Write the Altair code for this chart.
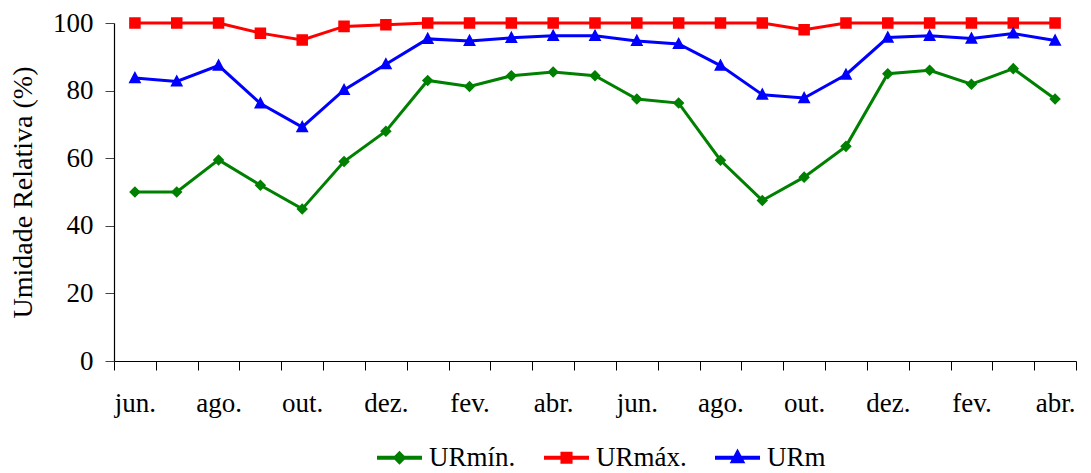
import altair as alt
import pandas as pd

months = ["jun.", "jul.", "ago.", "set.", "out.", "nov.", "dez.", "jan.", "fev.", "mar.", "abr.", "mai.",
          "jun.", "jul.", "ago.", "set.", "out.", "nov.", "dez.", "jan.", "fev.", "mar.", "abr."]
ur_min = [50, 50, 59.5, 52, 45, 59, 68, 83, 81.2, 84.4, 85.5, 84.4,
          77.5, 76.3, 59.4, 47.5, 54.4, 63.5, 85, 86, 81.9, 86.5, 77.5]
ur_max = [100, 100, 100, 97, 95, 99, 99.5, 100, 100, 100, 100, 100,
          100, 100, 100, 100, 98, 100, 100, 100, 100, 100, 100]
ur_m = [83.7, 82.7, 87.4, 76.2, 69.2, 80.2, 87.8, 95.3, 94.7, 95.6, 96.2, 96.2,
        94.7, 93.8, 87.4, 78.8, 77.8, 84.7, 95.7, 96.2, 95.4, 96.9, 94.8]
series_names = ["URmín.", "URmáx.", "URm"]
series_colors = ["#008000", "#FF0000", "#0000FF"]
y_ticks = [0, 20, 40, 60, 80, 100]

rows = []
for name, vals in zip(series_names, [ur_min, ur_max, ur_m]):
    for i, v in enumerate(vals):
        rows.append({"i": i, "series": name, "value": v})
df = pd.DataFrame(rows)

tick_labels = [m if k % 2 == 0 else "" for k, m in enumerate(months)]
label_expr = "[" + ",".join("'" + t + "'" for t in tick_labels) + "][datum.value]"

FONT = "Liberation Serif"

# shapes: a legend line plus marker (the line part has no area so it is invisible when only filled)
shape_paths = [
    "M-1,0L1,0M0,-0.18L0.18,0L0,0.18L-0.18,0Z",
    "M-1,0L1,0M-0.18,-0.18L0.18,-0.18L0.18,0.18L-0.18,0.18Z",
    "M-1,0L1,0M0,-0.22L0.2,0.16L-0.2,0.16Z",
]

x_enc = alt.X(
    "i:O",
    scale=alt.Scale(type="band", paddingInner=0, paddingOuter=0),
    axis=alt.Axis(
        title=None, labelExpr=label_expr, tickBand="extent", labelAngle=0,
        tickSize=9, labelPadding=20, labelFontSize=27, labelFont=FONT,
        labelColor="black", domainColor="black", tickColor="black",
        domainWidth=1.2, tickWidth=1,
    ),
)
y_enc = alt.Y(
    "value:Q",
    scale=alt.Scale(domain=[0, 100], nice=False),
    axis=alt.Axis(
        values=y_ticks, title="Umidade Relativa (%)", grid=False,
        tickSize=9, labelPadding=12, labelFontSize=27, labelFont=FONT,
        labelColor="black", domainColor="black", tickColor="#444",
        titleFont=FONT, titleFontSize=28, titleFontWeight="normal",
        titleColor="black", titlePadding=15, domainWidth=1.2,
    ),
)

legend = alt.Legend(
    title=None, orient="none", direction="horizontal",
    legendX=261, legendY=410,
    labelFont=FONT, labelFontSize=27, labelColor="black",
    symbolSize=2025, symbolStrokeWidth=4, columnPadding=20, labelOffset=5,
    symbolOpacity=1,
)

color_enc = alt.Color("series:N", scale=alt.Scale(domain=series_names, range=series_colors), legend=legend)
shape_enc = alt.Shape("series:N", scale=alt.Scale(domain=series_names, range=shape_paths), legend=legend)

lines = alt.Chart(df).mark_line(strokeWidth=3).encode(
    x=x_enc, y=y_enc, color=color_enc, detail="series:N",
)
points = alt.Chart(df).mark_point(filled=True, size=4096, opacity=1, strokeWidth=0).encode(
    x=x_enc, y=y_enc, color=color_enc, shape=shape_enc,
)

chart = alt.layer(lines, points).properties(
    width=962, height=338,
    autosize=alt.AutoSizeParams(type="none"),
    padding={"left": 106, "top": 15, "right": 7, "bottom": 110},
).configure_view(stroke=None)

chart.save("out.html", embed_options={"renderer": "svg", "actions": False})
